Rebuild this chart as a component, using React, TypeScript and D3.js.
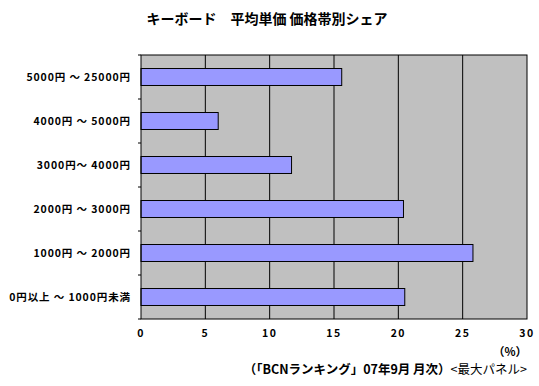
import React from "react";
import * as d3 from "d3";

const categories = [
  "5000円 ～ 25000円",
  "4000円 ～ 5000円",
  "3000円～ 4000円",
  "2000円 ～ 3000円",
  "1000円 ～ 2000円",
  "0円以上 ～ 1000円未満",
];
const shares = [15.6, 6.0, 11.7, 20.4, 25.8, 20.5];
const xTicks = [0, 5, 10, 15, 20, 25, 30];
const title = "キーボード　平均単価 価格帯別シェア";
const unitLabel = "（%）";
const sourceBold = "（「BCNランキング」07年9月 月次）";
const sourceNormal = "<最大パネル>";

const W = 539;
const H = 386;
const left = 141;
const right = 527;
const top = 55;
const bottom = 319;
const font = "'Noto Sans CJK JP', 'Noto Sans', sans-serif";

export default function App() {
  const x = d3.scaleLinear().domain([0, 30]).range([left, right]);
  const y = d3
    .scaleBand<string>()
    .domain(categories)
    .range([top, bottom])
    .paddingInner(0.614)
    .paddingOuter(0.307);
  const step = y.step();
  const boundaries = d3.range(categories.length + 1).map((i) => top + i * step);

  return (
    <svg
      width={W}
      height={H}
      style={{ position: "absolute", left: 0, top: 0, background: "#fff" }}
      fontFamily={font}
    >
      <rect x={0} y={0} width={W} height={H} fill="#fff" />
      <text x={267} y={24} textAnchor="middle" fontSize={14} fontWeight="bold">
        {title}
      </text>
      <rect x={left} y={top} width={right - left} height={bottom - top} fill="#c0c0c0" />
      {xTicks.slice(1, -1).map((t) => (
        <line key={t} x1={x(t)} x2={x(t)} y1={top} y2={bottom} stroke="#000" strokeWidth={1} />
      ))}
      {categories.map((c, i) => (
        <rect
          key={c}
          x={x(0)}
          y={y(c)!}
          width={x(shares[i]) - x(0)}
          height={y.bandwidth()}
          fill="#9999ff"
          stroke="#000"
          strokeWidth={1}
        />
      ))}
      <rect x={left} y={top} width={right - left} height={bottom - top} fill="none" stroke="#000" strokeWidth={1} />
      {boundaries.map((b, i) => (
        <line key={i} x1={left - 3} x2={left} y1={b} y2={b} stroke="#000" strokeWidth={1} />
      ))}
      {categories.map((c) => (
        <text
          key={c}
          x={131}
          y={y(c)! + y.bandwidth() / 2}
          dy="0.35em"
          textAnchor="end"
          fontSize={10.5}
          fontWeight="bold"
          letterSpacing={0.9}
        >
          {c}
        </text>
      ))}
      {xTicks.map((t) => (
        <text
          key={t}
          x={x(t)}
          y={337}
          textAnchor="middle"
          fontSize={10.5}
          fontWeight="bold"
          letterSpacing={1.5}
        >
          {t}
        </text>
      ))}
      <text x={527} y={356} textAnchor="end" fontSize={11.5} fontWeight="bold">
        {unitLabel}
      </text>
      <text x={527} y={374} textAnchor="end" fontSize={12.5}>
        <tspan fontWeight="bold">{sourceBold}</tspan>
        <tspan>{sourceNormal}</tspan>
      </text>
    </svg>
  );
}
